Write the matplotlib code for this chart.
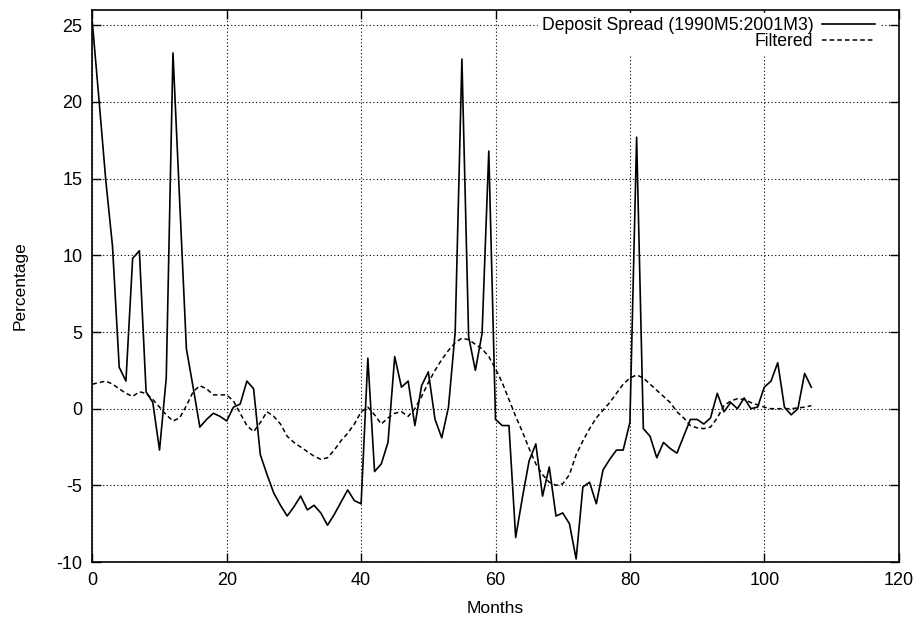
import numpy as np
import matplotlib
matplotlib.use("Agg")
import matplotlib.pyplot as plt

plt.rcParams["font.family"] = ["Liberation Sans", "DejaVu Sans"]
plt.rcParams["axes.unicode_minus"] = False

# months 0..107
months = np.arange(108)

# deposit spread (%)
spread = [
    25.2, 20.1, 14.9, 10.6, 2.7, 1.8, 9.8, 10.3, 1.1, 0.4,
    -2.7, 2.0, 23.2, 13.5, 3.9, 1.4, -1.2, -0.7, -0.3, -0.5,
    -0.8, 0.1, 0.3, 1.8, 1.3, -3.0, -4.3, -5.5, -6.3, -7.0,
    -6.4, -5.7, -6.6, -6.3, -6.8, -7.6, -6.9, -6.1, -5.3, -6.0,
    -6.2, 3.3, -4.1, -3.6, -2.2, 3.4, 1.4, 1.8, -1.1, 1.5,
    2.4, -0.7, -1.9, 0.1, 5.0, 22.8, 4.7, 2.5, 4.9, 16.8,
    -0.7, -1.1, -1.1, -8.4, -5.8, -3.4, -2.3, -5.7, -3.8, -7.0,
    -6.8, -7.5, -9.8, -5.1, -4.8, -6.2, -4.0, -3.3, -2.7, -2.7,
    -0.9, 17.7, -1.3, -1.8, -3.2, -2.2, -2.6, -2.9, -1.8, -0.7,
    -0.7, -1.0, -0.6, 1.0, -0.2, 0.4, 0.0, 0.7, 0.0, 0.1,
    1.4, 1.8, 3.0, 0.1, -0.4, 0.0, 2.3, 1.4,
]

# filtered series
filtered = [
    1.6, 1.7, 1.8, 1.6, 1.3, 1.0, 0.8, 1.1, 1.0, 0.6,
    0.1, -0.4, -0.8, -0.6, 0.2, 1.1, 1.5, 1.3, 0.9, 0.9,
    0.9, 0.5, -0.3, -1.1, -1.5, -0.9, -0.2, -0.5, -1.0, -1.8,
    -2.2, -2.5, -2.8, -3.1, -3.3, -3.2, -2.7, -2.1, -1.6, -1.0,
    -0.2, 0.1, -0.4, -1.0, -0.6, -0.3, -0.2, -0.5, 0.0, 0.8,
    1.7, 2.5, 3.2, 3.8, 4.3, 4.6, 4.5, 4.2, 3.9, 3.4,
    2.6, 1.7, 0.6, -0.5, -1.5, -2.6, -3.6, -4.3, -4.8, -5.0,
    -4.9, -4.3, -3.0, -2.1, -1.3, -0.6, -0.1, 0.4, 1.0, 1.6,
    2.0, 2.2, 2.0, 1.6, 1.2, 0.8, 0.4, -0.2, -0.6, -1.1,
    -1.25, -1.3, -1.2, -0.6, 0.2, 0.5, 0.65, 0.6, 0.4, 0.25,
    0.1, 0.0, 0.0, 0.0, 0.0, 0.05, 0.1, 0.2,
]

XTICKS = np.arange(0, 121, 20)
YTICKS = np.arange(-10, 26, 5)

fig = plt.figure(figsize=(9.16, 6.2), dpi=100)
ax = fig.add_axes([0.1008, 0.0935, 0.8803, 0.8904])

ax.plot(months, spread, color="black", lw=1.2,
        label="Deposit Spread (1990M5:2001M3)")
ax.plot(months, filtered, color="black", lw=1.1, ls=(0, (3, 2)),
        label="Filtered")

ax.set_xlim(0, 120)
ax.set_ylim(-10, 26)
ax.set_xticks(XTICKS)
ax.set_yticks(YTICKS)
ax.grid(True, color="black", lw=0.8, ls=(0, (1, 2.2)))
ax.set_axisbelow(True)
ax.tick_params(direction="in", length=6.5, width=1.0, top=True, right=True,
               labelsize=13)
ax.tick_params(axis="y", pad=7)
ax.tick_params(axis="x", pad=7)
for s in ax.spines.values():
    s.set_linewidth(1.2)

ax.set_xlabel("Months", fontsize=12.5, labelpad=9)
ax.set_ylabel("Percentage", fontsize=12.5, labelpad=21)

# gnuplot-style key: text right-aligned, sample on the right
leg = ax.legend(loc="upper right", bbox_to_anchor=(0.975, 0.994),
                markerfirst=False, fontsize=12.7,
                frameon=True, fancybox=False, framealpha=1,
                handlelength=3.0, handletextpad=0.5, labelspacing=-0.05,
                borderpad=0.2, borderaxespad=0.0)
leg.get_frame().set_edgecolor("white")
leg.get_frame().set_facecolor("white")

fig.savefig("out.png", dpi=100)
